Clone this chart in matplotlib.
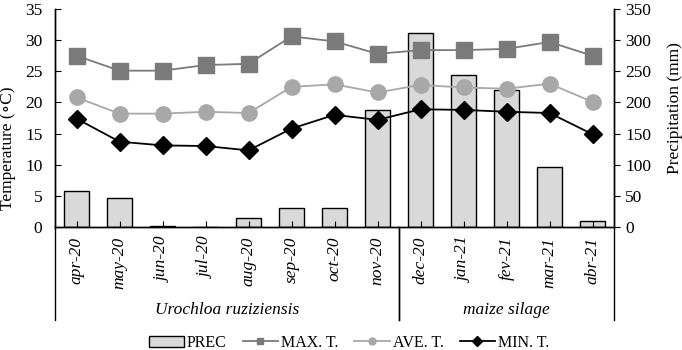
import numpy as np
import matplotlib
matplotlib.use("Agg")
import matplotlib.pyplot as plt

plt.rcParams['font.family'] = ['Liberation Serif', 'DejaVu Serif']
plt.rcParams['font.size'] = 12.5

# data
months = ['apr-20', 'may-20', 'jun-20', 'jul-20', 'aug-20', 'sep-20', 'oct-20',
          'nov-20', 'dec-20', 'jan-21', 'fev-21', 'mar-21', 'abr-21']
prec = [58, 46, 2, 0, 15, 31, 30, 188, 311, 244, 220, 96, 9]
max_t = [27.5, 25.1, 25.1, 26.0, 26.2, 30.6, 29.8, 27.8, 28.4, 28.4, 28.6, 29.7, 27.5]
ave_t = [20.8, 18.2, 18.2, 18.5, 18.3, 22.5, 22.9, 21.6, 22.8, 22.4, 22.2, 23.0, 20.1]
min_t = [17.4, 13.7, 13.1, 13.0, 12.3, 15.8, 18.0, 17.2, 18.9, 18.8, 18.5, 18.3, 14.9]
groups = ['Urochloa ruziziensis', 'maize silage']
group_sizes = [8, 5]

x = np.arange(len(months))

fig = plt.figure(figsize=(6.82, 3.5), dpi=100)
ax = fig.add_axes([55/682, 1-227/350, 559/682, 218/350])
ax2 = ax.twinx()
ax.set_zorder(ax2.get_zorder() + 1)
ax.patch.set_visible(False)

bars = ax2.bar(x, prec, width=0.6, color='#d9d9d9', edgecolor='black',
               linewidth=1.0, label='PREC')
l1, = ax.plot(x, max_t, '-s', color='#7a7a7a', lw=1.3, ms=11, label='MAX. T.')
l2, = ax.plot(x, ave_t, '-o', color='#a8a8a8', lw=1.3, ms=11, label='AVE. T.')
l3, = ax.plot(x, min_t, '-D', color='black', lw=1.3, ms=9, label='MIN. T.')

ax.set_xlim(-0.5, len(months) - 0.5)
ax.set_ylim(0, 35)
ax2.set_ylim(0, 350)
ax.set_yticks(np.arange(0, 36, 5))
ax2.set_yticks(np.arange(0, 351, 50))
ax.set_xticks(x)
ax.set_xticklabels(months, rotation=90, style='italic')

ax.tick_params(axis='y', direction='in', length=4, pad=9)
ax.tick_params(axis='x', direction='in', length=4, pad=7)
ax2.tick_params(axis='y', direction='out', length=4, pad=4)

for a in (ax, ax2):
    a.spines['top'].set_visible(False)
    for s in a.spines.values():
        s.set_linewidth(1.0)

ax.set_ylabel('Temperature (\u2218C)')
ax.yaxis.set_label_coords(-0.07, 0.36)
ax2.set_ylabel('Precipitation (mm)')
ax2.yaxis.set_label_coords(1.095, 0.545)

# group separators and labels below the month labels
start = 0
for name, n in zip(groups, group_sizes):
    lo = start / len(months)
    hi = (start + n) / len(months)
    for xb in (lo, hi):
        ax.plot([xb, xb], [0, -0.425], transform=ax.transAxes, color='black',
                lw=1.0, clip_on=False)
    ax.text((lo + hi) / 2, -0.38, name, transform=ax.transAxes, ha='center',
            va='center', style='italic')
    start += n

leg = fig.legend([bars, l1, l2, l3], ['PREC', 'MAX. T.', 'AVE. T.', 'MIN. T.'],
                 loc='center', bbox_to_anchor=(349/682, 1-343/350), ncol=4,
                 frameon=False, fontsize=11.5, handlelength=2.2,
                 handletextpad=0.2, columnspacing=1.0, borderaxespad=0)
for h in leg.legend_handles[1:]:
    h.set_markersize(5)

fig.savefig('out.png', dpi=100)
